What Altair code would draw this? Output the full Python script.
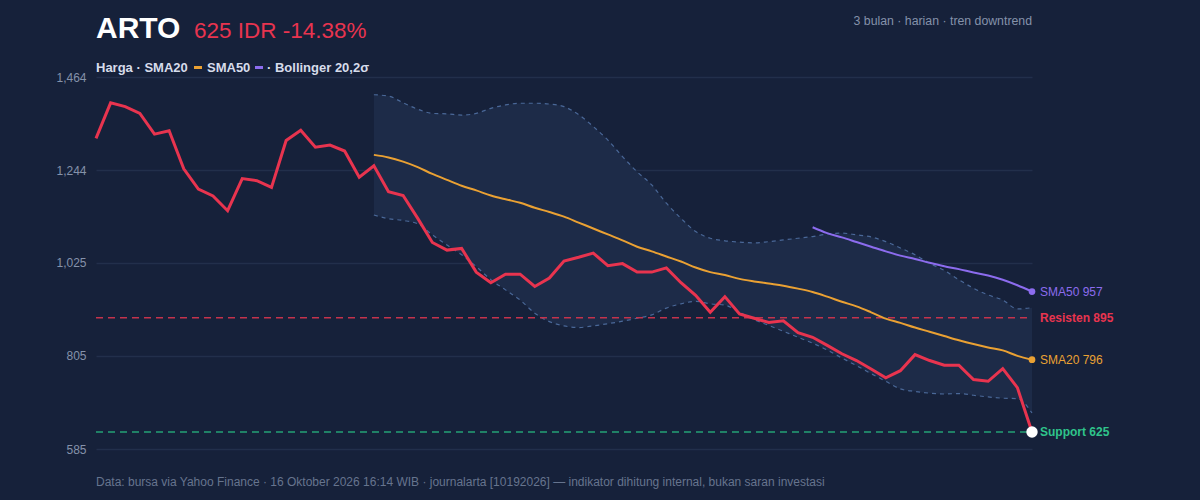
import altair as alt
import pandas as pd

# ---- ticker summary -------------------------------------------------------
ticker = "ARTO"
last_label = "625 IDR -14.38%"
subtitle = "3 bulan · harian · tren downtrend"
footer = ("Data: bursa via Yahoo Finance · 16 Oktober 2026 16:14 WIB · journalarta "
          "[10192026] — indikator dihitung internal, bukan saran investasi")
resistance = 895
support = 625
y_ticks = [585, 805, 1025, 1244, 1464]

# ---- daily series (65 sessions) ---------------------------------------------
price = [1319, 1403, 1394, 1378, 1329, 1337, 1247, 1199, 1183, 1148,
         1224, 1219, 1203, 1314, 1338, 1298, 1303, 1289, 1227, 1254,
         1193, 1184, 1130, 1073, 1055, 1059, 1003, 978, 998, 998,
         969, 989, 1029, 1038, 1048, 1018, 1023, 1003, 1003, 1013,
         978, 948, 908, 945, 904, 894, 884, 888, 860, 849,
         830, 810, 794, 774, 753, 770, 808, 794, 783, 783,
         749, 745, 775, 730, 625]

sma20 = [None] * 19 + [
    1280, 1274, 1264, 1251, 1235, 1221, 1207, 1196, 1184, 1175,
    1167, 1155, 1145, 1134, 1120, 1106, 1092, 1078, 1063, 1052,
    1040, 1028, 1014, 1003, 996, 987, 981, 976, 971, 964,
    956, 945, 933, 922, 908, 893, 883, 872, 862, 852,
    842, 833, 825, 818, 805, 796]

bb_upper = [None] * 19 + [
    1422, 1419, 1403, 1388, 1378, 1377, 1374, 1378, 1390, 1398,
    1402, 1402, 1400, 1394, 1375, 1347, 1315, 1276, 1240, 1209,
    1166, 1130, 1099, 1083, 1077, 1074, 1072, 1075, 1079, 1083,
    1087, 1093, 1095, 1091, 1086, 1075, 1060, 1044, 1024, 1007,
    985, 965, 949, 937, 916, 919]

bb_lower = [None] * 19 + [
    1138, 1129, 1125, 1117, 1091, 1067, 1044, 1016, 985, 961,
    937, 906, 886, 876, 872, 876, 881, 887, 894, 902,
    918, 928, 934, 928, 925, 908, 891, 877, 863, 849,
    835, 819, 800, 782, 763, 745, 727, 721, 717, 715,
    716, 712, 708, 705, 704, 670]

sma50 = [None] * 49 + [
    1109, 1095, 1085, 1074, 1063, 1052, 1042, 1034, 1025, 1017,
    1010, 1002, 995, 985, 972, 957]

df = pd.DataFrame({
    "idx": list(range(len(price))),
    "price": price,
    "sma20": sma20,
    "upper": bb_upper,
    "lower": bb_lower,
    "sma50": sma50,
})

# ---- palette --------------------------------------------------------------
BG = "#16213a"
BAND = "#1d2b48"
BAND_LINE = "#4a6898"
GRID = "#222f4b"
RED = "#e8344f"
ORANGE = "#eaa133"
PURPLE = "#8c6cee"
GREEN = "#2fc48b"
GREEN_LINE = "#24a176"
RED_LINE = "#c4334c"
MUTED = "#8592aa"
FOOT = "#66748e"
FONT = "Liberation Sans"

W, H = 936, 372

x_enc = alt.X("idx:Q", scale=alt.Scale(domain=[0, len(price) - 1], nice=False, zero=False), axis=None)
y_scale = alt.Scale(domain=[585, 1464], nice=False, zero=False)
y_axis = alt.Axis(
    values=y_ticks, format=",.0f", title=None, domain=False, ticks=False,
    grid=True, gridColor=GRID, gridWidth=1.5, labelColor=MUTED, labelFont=FONT,
    labelFontSize=12, labelPadding=10)


def yq(field):
    return alt.Y(f"{field}:Q", scale=y_scale, axis=y_axis, title=None)


base = alt.Chart(df)

band = base.transform_filter("isValid(datum.upper)").mark_area(
    color=BAND, opacity=1, interpolate="monotone"
).encode(x=x_enc, y=yq("lower"), y2="upper:Q")

upper_line = base.transform_filter("isValid(datum.upper)").mark_line(
    color=BAND_LINE, strokeWidth=1.2, strokeDash=[4, 4], interpolate="monotone"
).encode(x=x_enc, y=yq("upper"))

lower_line = base.transform_filter("isValid(datum.lower)").mark_line(
    color=BAND_LINE, strokeWidth=1.2, strokeDash=[4, 4], interpolate="monotone"
).encode(x=x_enc, y=yq("lower"))

level_df = pd.DataFrame({"level": [resistance, support]})
res_rule = alt.Chart(level_df).transform_filter(f"datum.level == {resistance}").mark_rule(
    strokeWidth=1.5, strokeDash=[7, 5], color=RED_LINE
).encode(x=alt.value(0), x2=alt.value(W), y=yq("level"))
sup_rule = alt.Chart(level_df).transform_filter(f"datum.level == {support}").mark_rule(
    strokeWidth=1.5, strokeDash=[7, 5], color=GREEN_LINE
).encode(x=alt.value(0), x2=alt.value(W), y=yq("level"))

sma20_line = base.transform_filter("isValid(datum.sma20)").mark_line(
    color=ORANGE, strokeWidth=2, interpolate="monotone"
).encode(x=x_enc, y=yq("sma20"))

sma50_line = base.transform_filter("isValid(datum.sma50)").mark_line(
    color=PURPLE, strokeWidth=2, interpolate="monotone"
).encode(x=x_enc, y=yq("sma50"))

price_line = base.mark_line(color=RED, strokeWidth=3, strokeJoin="miter").encode(
    x=x_enc, y=yq("price"))

# ---- end-of-series markers and labels ---------------------------------------
last = len(price) - 1
end_df = pd.DataFrame({
    "idx": [last] * 4,
    "val": [sma50[-1], resistance, sma20[-1], support],
    "tag": [f"SMA50 {sma50[-1]}", f"Resisten {resistance}", f"SMA20 {sma20[-1]}", f"Support {support}"],
    "kind": ["SMA50", "Resisten", "SMA20", "Support"],
})
end_base = alt.Chart(end_df)


def end_dot(kind, color, size):
    return end_base.transform_filter(f"datum.kind == '{kind}'").mark_point(
        filled=True, opacity=1, color=color, size=size
    ).encode(x=x_enc, y=yq("val"))


def end_tag(kind, color, weight):
    return end_base.transform_filter(f"datum.kind == '{kind}'").mark_text(
        align="left", baseline="middle", dx=8, font=FONT, fontSize=12,
        fontWeight=weight, color=color
    ).encode(x=x_enc, y=yq("val"), text="tag:N")


end_layers = [
    end_dot("SMA50", PURPLE, 45),
    end_dot("SMA20", ORANGE, 45),
    end_dot("Support", "#ffffff", 130),
    end_tag("SMA50", PURPLE, "normal"),
    end_tag("Resisten", RED, "bold"),
    end_tag("SMA20", ORANGE, "normal"),
    end_tag("Support", GREEN, "bold"),
]

# ---- header, legend strip and footer ----------------------------------------
one = alt.Data(values=[{}])


def label(text, x, y, size, color, weight="normal", align="left"):
    return alt.Chart(one).mark_text(
        text=text, align=align, baseline="alphabetic", font=FONT, fontSize=size,
        fontWeight=weight, color=color
    ).encode(x=alt.value(x), y=alt.value(y))


def swatch(x, y, color):
    return alt.Chart(one).mark_rule(color=color, strokeWidth=3).encode(
        x=alt.value(x), x2=alt.value(x + 8), y=alt.value(y))


header = [
    label(ticker, 0, -39, 30, "#ffffff", "bold"),
    label(last_label, 98, -39, 22.5, RED),
    label(subtitle, W, -52, 12.3, MUTED, align="right"),
    label("Harga · SMA20", 0, -5, 13, "#d6dceb", "bold"),
    swatch(98, -9.5, ORANGE),
    label("SMA50", 111, -5, 13, "#d6dceb", "bold"),
    swatch(159, -9.5, PURPLE),
    label("· Bollinger 20,2σ", 171, -5, 13, "#d6dceb", "bold"),
    label(footer, 0, 409, 12, FOOT),
]

chart = alt.layer(
    band, upper_line, lower_line, res_rule, sup_rule, sma20_line, sma50_line, price_line,
    *end_layers, *header
).properties(
    width=W, height=H, autosize="none",
    padding={"left": 96, "top": 77, "right": 168, "bottom": 51},
    background=BG,
).configure_view(stroke=None)

chart.save("out.html", embed_options={"renderer": "svg", "actions": False})
